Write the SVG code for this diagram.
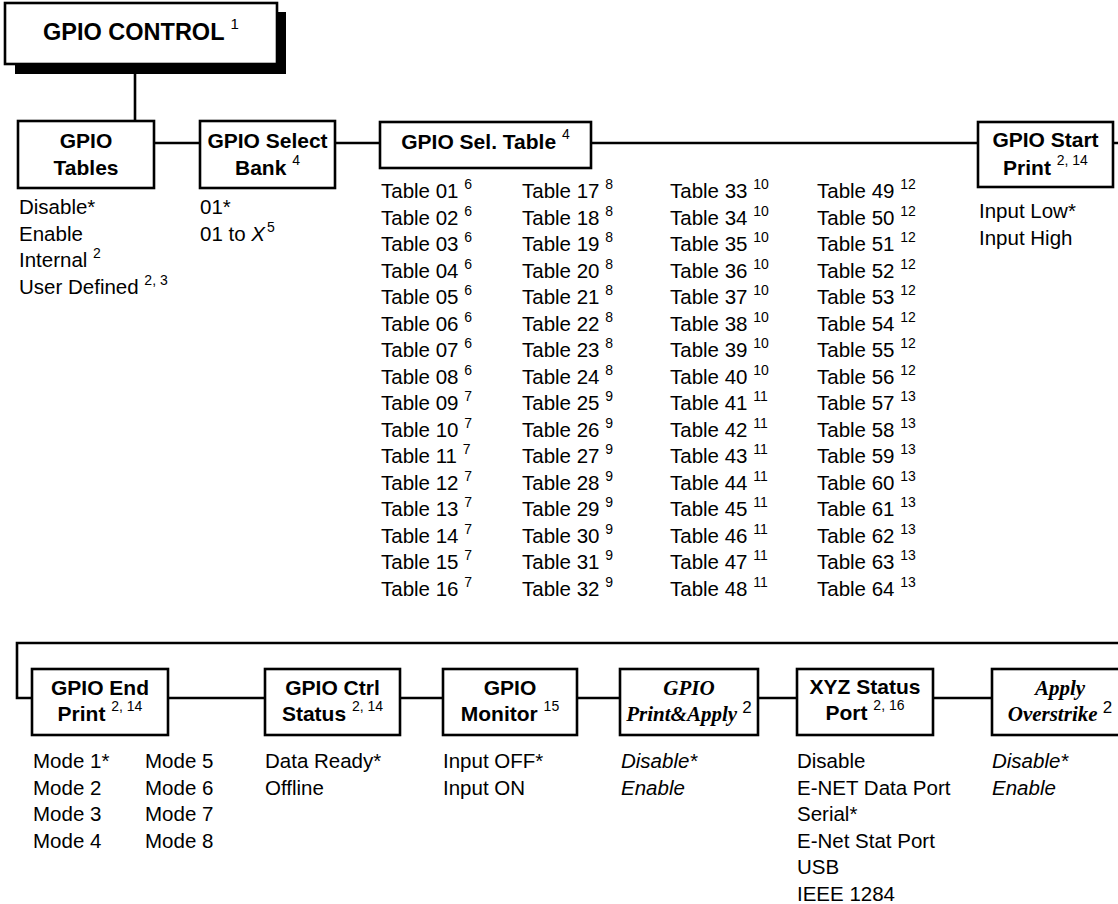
<svg xmlns="http://www.w3.org/2000/svg" width="1118" height="904" viewBox="0 0 1118 904">
<style>
.box{fill:#fff;stroke:#000;stroke-width:2.6}
.ln{fill:none;stroke:#000;stroke-width:2.6}
.hd{font-family:"Liberation Sans",Arial,sans-serif;font-weight:bold;font-size:21px;text-anchor:middle;fill:#000}
.hi{font-family:"Liberation Serif","Times New Roman",serif;font-weight:bold;font-style:italic;font-size:21px;text-anchor:middle;fill:#000}
.op{font-family:"Liberation Sans",Arial,sans-serif;font-size:20.5px;fill:#000}
.it{font-style:italic}
.sup{font-family:"Liberation Sans",Arial,sans-serif;font-weight:normal;font-style:normal;font-size:14px}
</style>
<g id="connectors">
<path class="ln" d="M135 74V121"/>
<path class="ln" d="M154 143H200M335 143H380M591 143H978M1113 143H1118"/>
<path class="ln" d="M1118 643H17V698H32"/>
<path class="ln" d="M168 698H265M400 698H443M577 698H620M758 698H797M933 698H992"/>
</g>
<g id="gpio-control">
<rect x="15" y="12" width="271" height="62" fill="#000"/>
<rect class="box" x="5" y="3" width="272" height="61"/>
<text class="hd" x="141" y="40" style="font-size:23.5px">GPIO CONTROL <tspan class="sup" dy="-11" style="font-size:15px">1</tspan></text>
</g>
<g id="gpio-tables">
<rect class="box" x="18" y="121" width="136" height="67"/>
<text class="hd" x="86" y="148">GPIO</text>
<text class="hd" x="86" y="175">Tables</text>
<text class="op" x="19" y="214">Disable*</text>
<text class="op" x="19" y="240.5">Enable</text>
<text class="op" x="19" y="267">Internal <tspan class="sup" dy="-9">2</tspan></text>
<text class="op" x="19" y="293.5">User Defined <tspan class="sup" dy="-9">2, 3</tspan></text>
</g>
<g id="gpio-select-bank">
<rect class="box" x="200" y="121" width="135" height="67"/>
<text class="hd" x="267.5" y="148">GPIO Select</text>
<text class="hd" x="267.5" y="175">Bank <tspan class="sup" dy="-10">4</tspan></text>
<text class="op" x="200" y="214">01*</text>
<text class="op" x="200" y="240.5">01 to <tspan class="it">X</tspan><tspan class="sup" dx="2" dy="-9">5</tspan></text>
</g>
<g id="gpio-sel-table">
<rect class="box" x="380" y="122" width="211" height="46"/>
<text class="hd" x="485.5" y="149">GPIO Sel. Table <tspan class="sup" dy="-10">4</tspan></text>
<g class="op">
<text x="381" y="198">Table 01 <tspan class="sup" dy="-9">6</tspan></text>
<text x="381" y="224.5">Table 02 <tspan class="sup" dy="-9">6</tspan></text>
<text x="381" y="251">Table 03 <tspan class="sup" dy="-9">6</tspan></text>
<text x="381" y="277.5">Table 04 <tspan class="sup" dy="-9">6</tspan></text>
<text x="381" y="304">Table 05 <tspan class="sup" dy="-9">6</tspan></text>
<text x="381" y="330.5">Table 06 <tspan class="sup" dy="-9">6</tspan></text>
<text x="381" y="357">Table 07 <tspan class="sup" dy="-9">6</tspan></text>
<text x="381" y="383.5">Table 08 <tspan class="sup" dy="-9">6</tspan></text>
<text x="381" y="410">Table 09 <tspan class="sup" dy="-9">7</tspan></text>
<text x="381" y="436.5">Table 10 <tspan class="sup" dy="-9">7</tspan></text>
<text x="381" y="463">Table 11 <tspan class="sup" dy="-9">7</tspan></text>
<text x="381" y="489.5">Table 12 <tspan class="sup" dy="-9">7</tspan></text>
<text x="381" y="516">Table 13 <tspan class="sup" dy="-9">7</tspan></text>
<text x="381" y="542.5">Table 14 <tspan class="sup" dy="-9">7</tspan></text>
<text x="381" y="569">Table 15 <tspan class="sup" dy="-9">7</tspan></text>
<text x="381" y="595.5">Table 16 <tspan class="sup" dy="-9">7</tspan></text>
<text x="522" y="198">Table 17 <tspan class="sup" dy="-9">8</tspan></text>
<text x="522" y="224.5">Table 18 <tspan class="sup" dy="-9">8</tspan></text>
<text x="522" y="251">Table 19 <tspan class="sup" dy="-9">8</tspan></text>
<text x="522" y="277.5">Table 20 <tspan class="sup" dy="-9">8</tspan></text>
<text x="522" y="304">Table 21 <tspan class="sup" dy="-9">8</tspan></text>
<text x="522" y="330.5">Table 22 <tspan class="sup" dy="-9">8</tspan></text>
<text x="522" y="357">Table 23 <tspan class="sup" dy="-9">8</tspan></text>
<text x="522" y="383.5">Table 24 <tspan class="sup" dy="-9">8</tspan></text>
<text x="522" y="410">Table 25 <tspan class="sup" dy="-9">9</tspan></text>
<text x="522" y="436.5">Table 26 <tspan class="sup" dy="-9">9</tspan></text>
<text x="522" y="463">Table 27 <tspan class="sup" dy="-9">9</tspan></text>
<text x="522" y="489.5">Table 28 <tspan class="sup" dy="-9">9</tspan></text>
<text x="522" y="516">Table 29 <tspan class="sup" dy="-9">9</tspan></text>
<text x="522" y="542.5">Table 30 <tspan class="sup" dy="-9">9</tspan></text>
<text x="522" y="569">Table 31 <tspan class="sup" dy="-9">9</tspan></text>
<text x="522" y="595.5">Table 32 <tspan class="sup" dy="-9">9</tspan></text>
<text x="670" y="198">Table 33 <tspan class="sup" dy="-9">10</tspan></text>
<text x="670" y="224.5">Table 34 <tspan class="sup" dy="-9">10</tspan></text>
<text x="670" y="251">Table 35 <tspan class="sup" dy="-9">10</tspan></text>
<text x="670" y="277.5">Table 36 <tspan class="sup" dy="-9">10</tspan></text>
<text x="670" y="304">Table 37 <tspan class="sup" dy="-9">10</tspan></text>
<text x="670" y="330.5">Table 38 <tspan class="sup" dy="-9">10</tspan></text>
<text x="670" y="357">Table 39 <tspan class="sup" dy="-9">10</tspan></text>
<text x="670" y="383.5">Table 40 <tspan class="sup" dy="-9">10</tspan></text>
<text x="670" y="410">Table 41 <tspan class="sup" dy="-9">11</tspan></text>
<text x="670" y="436.5">Table 42 <tspan class="sup" dy="-9">11</tspan></text>
<text x="670" y="463">Table 43 <tspan class="sup" dy="-9">11</tspan></text>
<text x="670" y="489.5">Table 44 <tspan class="sup" dy="-9">11</tspan></text>
<text x="670" y="516">Table 45 <tspan class="sup" dy="-9">11</tspan></text>
<text x="670" y="542.5">Table 46 <tspan class="sup" dy="-9">11</tspan></text>
<text x="670" y="569">Table 47 <tspan class="sup" dy="-9">11</tspan></text>
<text x="670" y="595.5">Table 48 <tspan class="sup" dy="-9">11</tspan></text>
<text x="817" y="198">Table 49 <tspan class="sup" dy="-9">12</tspan></text>
<text x="817" y="224.5">Table 50 <tspan class="sup" dy="-9">12</tspan></text>
<text x="817" y="251">Table 51 <tspan class="sup" dy="-9">12</tspan></text>
<text x="817" y="277.5">Table 52 <tspan class="sup" dy="-9">12</tspan></text>
<text x="817" y="304">Table 53 <tspan class="sup" dy="-9">12</tspan></text>
<text x="817" y="330.5">Table 54 <tspan class="sup" dy="-9">12</tspan></text>
<text x="817" y="357">Table 55 <tspan class="sup" dy="-9">12</tspan></text>
<text x="817" y="383.5">Table 56 <tspan class="sup" dy="-9">12</tspan></text>
<text x="817" y="410">Table 57 <tspan class="sup" dy="-9">13</tspan></text>
<text x="817" y="436.5">Table 58 <tspan class="sup" dy="-9">13</tspan></text>
<text x="817" y="463">Table 59 <tspan class="sup" dy="-9">13</tspan></text>
<text x="817" y="489.5">Table 60 <tspan class="sup" dy="-9">13</tspan></text>
<text x="817" y="516">Table 61 <tspan class="sup" dy="-9">13</tspan></text>
<text x="817" y="542.5">Table 62 <tspan class="sup" dy="-9">13</tspan></text>
<text x="817" y="569">Table 63 <tspan class="sup" dy="-9">13</tspan></text>
<text x="817" y="595.5">Table 64 <tspan class="sup" dy="-9">13</tspan></text>
</g>
</g>
<g id="gpio-start-print">
<rect class="box" x="978" y="122" width="135" height="65"/>
<text class="hd" x="1045.5" y="147">GPIO Start</text>
<text class="hd" x="1045.5" y="175">Print <tspan class="sup" dy="-10">2, 14</tspan></text>
<text class="op" x="979" y="218">Input Low*</text>
<text class="op" x="979" y="244.5">Input High</text>
</g>
<g id="gpio-end-print">
<rect class="box" x="32" y="669" width="136" height="66"/>
<text class="hd" x="100" y="695">GPIO End</text>
<text class="hd" x="100" y="721">Print <tspan class="sup" dy="-10">2, 14</tspan></text>
<text class="op" x="33" y="768">Mode 1*</text>
<text class="op" x="33" y="794.5">Mode 2</text>
<text class="op" x="33" y="821">Mode 3</text>
<text class="op" x="33" y="847.5">Mode 4</text>
<text class="op" x="145" y="768">Mode 5</text>
<text class="op" x="145" y="794.5">Mode 6</text>
<text class="op" x="145" y="821">Mode 7</text>
<text class="op" x="145" y="847.5">Mode 8</text>
</g>
<g id="gpio-ctrl-status">
<rect class="box" x="265" y="669" width="135" height="66"/>
<text class="hd" x="332.5" y="695">GPIO Ctrl</text>
<text class="hd" x="332.5" y="721">Status <tspan class="sup" dy="-10">2, 14</tspan></text>
<text class="op" x="265" y="768">Data Ready*</text>
<text class="op" x="265" y="794.5">Offline</text>
</g>
<g id="gpio-monitor">
<rect class="box" x="443" y="669" width="134" height="66"/>
<text class="hd" x="510" y="695">GPIO</text>
<text class="hd" x="510" y="721">Monitor <tspan class="sup" dy="-10">15</tspan></text>
<text class="op" x="443" y="768">Input OFF*</text>
<text class="op" x="443" y="794.5">Input ON</text>
</g>
<g id="gpio-print-apply">
<rect class="box" x="620" y="669" width="138" height="66"/>
<text class="hi" x="689" y="695">GPIO</text>
<text class="hi" x="689" y="721">Print&amp;Apply <tspan class="sup" dy="-8" style="font-size:17px">2</tspan></text>
<text class="op it" x="621" y="768">Disable*</text>
<text class="op it" x="621" y="794.5">Enable</text>
</g>
<g id="xyz-status-port">
<rect class="box" x="797" y="669" width="136" height="66"/>
<text class="hd" x="865" y="694">XYZ Status</text>
<text class="hd" x="865" y="720">Port <tspan class="sup" dy="-10">2, 16</tspan></text>
<text class="op" x="797" y="768">Disable</text>
<text class="op" x="797" y="794.5">E-NET Data Port</text>
<text class="op" x="797" y="821">Serial*</text>
<text class="op" x="797" y="847.5">E-Net Stat Port</text>
<text class="op" x="797" y="874">USB</text>
<text class="op" x="797" y="900.5">IEEE 1284</text>
</g>
<g id="apply-overstrike">
<rect class="box" x="992" y="669" width="140" height="66"/>
<text class="hi" x="1060" y="695">Apply</text>
<text class="hi" x="1060" y="721">Overstrike <tspan class="sup" dy="-8" style="font-size:17px">2</tspan></text>
<text class="op it" x="992" y="768">Disable*</text>
<text class="op it" x="992" y="794.5">Enable</text>
</g>
</svg>
